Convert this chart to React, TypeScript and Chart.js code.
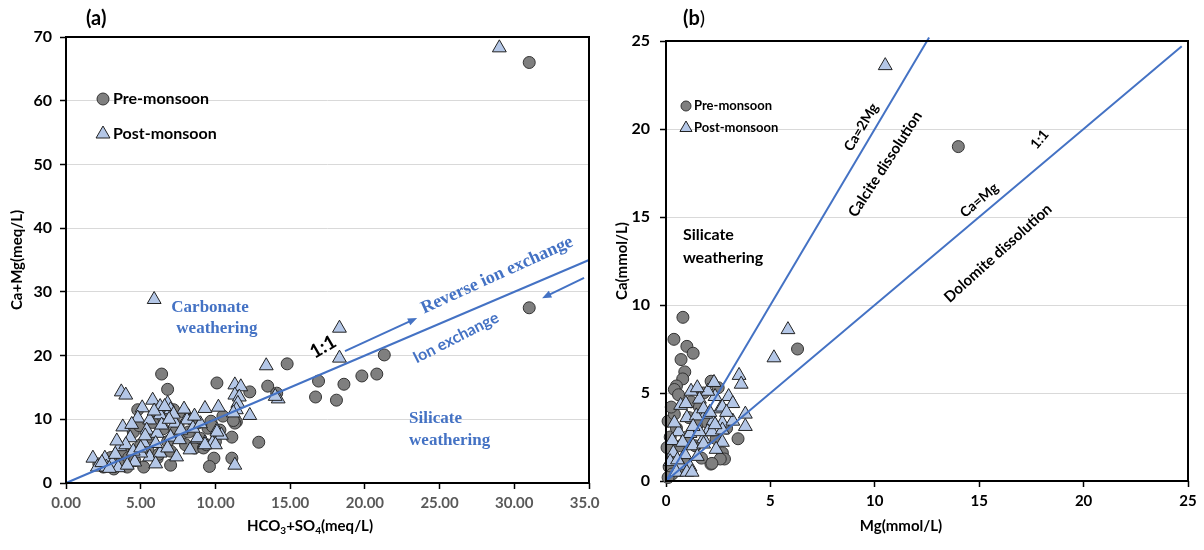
import React, { useEffect, useRef } from "react";
import { Chart, registerables } from "chart.js";

Chart.register(...registerables);

// ---------- Panel (a): Ca+Mg vs HCO3+SO4 (meq/L) ----------
const A_X_TICKS = [0, 5, 10, 15, 20, 25, 30, 35];
const A_Y_TICKS = [0, 10, 20, 30, 40, 50, 60, 70];

const A_PRE: [number, number][] = [
  [31.0, 66.0], [31.0, 27.5], [21.3, 20.1], [20.8, 17.1], [19.8, 16.8], [18.6, 15.5], [18.1, 13.0],
  [16.9, 16.0], [16.7, 13.5], [14.8, 18.7], [13.5, 15.2], [14.1, 14.1], [12.3, 14.3], [10.1, 15.7],
  [6.4, 17.1], [6.8, 14.7], [12.9, 6.4], [11.1, 7.2], [11.4, 9.6], [11.3, 9.4], [9.9, 3.9], [11.1, 3.9],
  [9.6, 2.6], [7.0, 2.8], [5.2, 2.5], [4.1, 2.5], [2.9, 3.6], [6.1, 3.9], [8.6, 5.5], [9.2, 5.5],
  [7.9, 11.1], [7.2, 11.5], [4.8, 11.5], [8.8, 9.4], [9.5, 8.6], [10.3, 8.3], [4.5, 8.0], [5.6, 7.2],
  [7.8, 7.8], [6.5, 8.5], [5.0, 6.0], [6.8, 6.5], [3.8, 5.0], [4.2, 4.0], [5.5, 5.0], [7.5, 9.0],
  [8.2, 8.0], [9.0, 7.0], [9.7, 9.7], [6.0, 10.0], [3.5, 3.0], [2.5, 2.5], [3.2, 2.2], [4.6, 3.5],
  [8.0, 6.0], [10.5, 10.5], [7.0, 5.0], [6.2, 4.5], [10.0, 6.5], [5.8, 9.5], [4.9, 9.0], [8.4, 10.0],
  [9.4, 6.0], [3.0, 4.0], [2.2, 3.0], [7.3, 8.0], [9.8, 8.9], [11.2, 9.8], [6.6, 11.0],
];

const A_POST: [number, number][] = [
  [29.0, 68.3], [5.9, 28.8], [18.3, 24.3], [18.3, 19.6], [13.4, 18.4], [11.3, 15.4], [11.7, 15.1],
  [11.3, 13.8], [11.6, 13.5], [11.5, 12.5], [11.4, 11.5], [12.3, 10.6], [14.2, 13.2], [14.0, 13.6],
  [10.2, 11.9], [9.3, 11.7], [8.1, 10.2], [10.1, 8.3], [10.4, 7.5], [9.3, 6.3], [9.8, 6.3], [8.8, 6.9],
  [11.3, 2.8], [3.7, 14.3], [4.0, 13.8], [5.8, 13.0], [5.1, 11.8], [4.8, 10.2], [3.8, 8.8], [4.3, 7.1],
  [3.6, 5.7], [1.8, 3.9], [2.6, 3.9], [3.1, 3.1], [2.1, 2.5], [2.7, 2.5], [6.3, 12.0], [6.8, 12.5],
  [7.0, 11.5], [6.3, 10.7], [5.6, 9.9], [5.4, 8.3], [6.1, 7.8], [6.4, 9.1], [7.3, 9.4], [8.1, 9.9],
  [7.0, 7.2], [7.6, 6.8], [8.8, 7.1], [10.0, 6.0], [9.3, 6.0], [10.1, 8.0], [5.6, 4.1], [5.0, 4.7],
  [4.6, 3.3], [6.3, 4.7], [11.2, 11.0], [7.2, 10.8], [6.6, 12.0], [4.0, 6.0], [5.2, 6.3], [4.5, 5.0],
  [3.3, 4.5], [2.4, 3.2], [3.5, 2.4], [6.8, 5.5], [7.7, 8.3], [8.5, 8.6], [9.0, 9.3], [6.0, 6.2],
  [5.0, 5.5], [4.1, 2.8], [2.9, 2.3], [6.9, 10.0], [7.9, 11.6], [8.6, 10.5], [5.9, 11.3], [4.4, 9.2],
  [5.3, 7.4], [3.4, 6.6], [7.4, 4.1], [8.3, 5.2], [6.0, 3.0],
];

const A_LINE_1TO1: [number, number][] = [[0, 0], [35, 35]];

// ---------- Panel (b): Ca vs Mg (mmol/L) ----------
const B_X_TICKS = [0, 5, 10, 15, 20, 25];
const B_Y_TICKS = [0, 5, 10, 15, 20, 25];

const B_PRE: [number, number][] = [
  [14.0, 19.0], [6.3, 7.5], [3.45, 2.4], [0.81, 9.3], [0.38, 8.05], [1.0, 7.65], [1.3, 7.26],
  [0.72, 6.9], [0.9, 6.2], [0.8, 5.8], [0.5, 5.4], [0.4, 5.2], [0.6, 4.9], [0.1, 3.4], [0.4, 3.8],
  [2.16, 5.67], [1.8, 5.0], [2.5, 5.3], [2.7, 1.6], [2.8, 1.25], [2.6, 1.25], [2.15, 0.96], [1.7, 1.3],
  [2.2, 1.0], [0.2, 2.5], [0.3, 1.5], [0.15, 0.8], [0.5, 3.0], [0.25, 4.2], [1.2, 4.5], [1.5, 3.2],
  [1.0, 2.5], [0.7, 2.0], [0.9, 1.2], [1.4, 2.0], [2.0, 3.3], [0.3, 0.4], [0.6, 0.6], [1.1, 3.6],
  [2.4, 2.4], [2.9, 3.0], [1.6, 4.2], [0.05, 1.9], [0.1, 0.2],
];

const B_POST: [number, number][] = [
  [10.5, 23.6], [5.84, 8.6], [5.17, 7.0], [3.5, 6.0], [3.6, 5.5], [3.8, 3.8], [3.8, 3.1], [3.0, 4.8],
  [3.2, 4.4], [2.35, 4.8], [2.6, 4.1], [2.0, 5.1], [2.25, 3.4], [2.7, 3.3], [3.2, 3.4], [1.9, 3.8],
  [2.0, 2.8], [2.7, 2.2], [1.8, 2.4], [0.7, 4.3], [1.6, 4.65], [1.0, 3.6], [1.45, 3.7], [1.8, 4.1],
  [2.1, 3.9], [2.7, 4.2], [0.6, 2.8], [1.15, 2.7], [1.6, 2.8], [2.2, 2.8], [2.7, 2.9], [0.3, 2.3],
  [0.8, 2.2], [1.3, 2.0], [1.8, 2.1], [0.35, 1.6], [0.9, 1.5], [1.5, 1.4], [0.2, 1.1], [0.7, 0.9],
  [1.15, 0.8], [0.5, 0.5], [1.0, 0.5], [1.25, 0.5], [2.35, 3.2], [1.2, 5.1], [1.5, 5.3], [2.3, 5.6],
  [0.4, 3.3], [1.3, 3.1], [2.4, 1.8], [0.95, 4.4], [2.9, 3.9], [0.55, 1.2],
];

const B_LINE_CA2MG: [number, number][] = [[0, 0], [12.6, 25.2]];
const B_LINE_1TO1: [number, number][] = [[0, 0], [24.7, 24.7]];

// ---------- styles ----------
const FONT = "Lato, 'Noto Sans', sans-serif";
const SERIF = "'Liberation Serif', 'DejaVu Serif', serif";
const BLUE = "#4472C4";
const PRE_FILL = "#7F7F7F";
const PRE_EDGE = "#333333";
const POST_FILL = "#B4C7E7";
const POST_EDGE = "#222222";

type TextAnn = { text: string; x: number; y: number; rot: number; font: string; color: string; align?: CanvasTextAlign };
type ArrowAnn = { x1: number; y1: number; x2: number; y2: number };

const A_TEXTS: TextAnn[] = [
  { text: "Carbonate", x: 9.64, y: 27.6, rot: 0, font: `bold 17px ${SERIF}`, color: BLUE },
  { text: "weathering", x: 10.1, y: 24.2, rot: 0, font: `bold 17px ${SERIF}`, color: BLUE },
  { text: "Silicate", x: 22.96, y: 10.05, rot: 0, font: `bold 17px ${SERIF}`, color: BLUE, align: "left" },
  { text: "weathering", x: 22.96, y: 6.6, rot: 0, font: `bold 17px ${SERIF}`, color: BLUE, align: "left" },
  { text: "Reverse ion exchange", x: 28.85, y: 32.6, rot: -24.5, font: `bold 18px ${SERIF}`, color: BLUE },
  { text: "Ion exchange", x: 26.1, y: 22.8, rot: -27, font: `bold 16px ${FONT}`, color: BLUE },
  { text: "1:1", x: 17.2, y: 21.35, rot: -30, font: `bold 19px ${FONT}`, color: "#000" },
];
const A_ARROWS: ArrowAnn[] = [
  { x1: 18.67, y1: 20.7, x2: 23.5, y2: 25.9 },
  { x1: 34.67, y1: 32.2, x2: 31.86, y2: 29.0 },
];

const B_TEXTS: TextAnn[] = [
  { text: "Ca=2Mg", x: 9.35, y: 20.1, rot: -59, font: `bold 14px ${FONT}`, color: "#000" },
  { text: "Calcite dissolution", x: 10.5, y: 18.0, rot: -57, font: `bold 15px ${FONT}`, color: "#000" },
  { text: "1:1", x: 17.9, y: 19.4, rot: -50, font: `bold 14px ${FONT}`, color: "#000" },
  { text: "Ca=Mg", x: 15.0, y: 15.95, rot: -40, font: `bold 14px ${FONT}`, color: "#000" },
  { text: "Dolomite dissolution", x: 15.9, y: 12.95, rot: -42, font: `bold 15px ${FONT}`, color: "#000" },
  { text: "Silicate", x: 0.81, y: 14.0, rot: 0, font: `bold 16px ${FONT}`, color: "#000", align: "left" },
  { text: "weathering", x: 0.81, y: 12.7, rot: 0, font: `bold 16px ${FONT}`, color: "#000", align: "left" },
];

type PanelSpec = {
  label: string;
  labelX: number;
  texts: TextAnn[];
  arrows: ArrowAnn[];
  legend: { cx: number; cy1: number; cy2: number; font: string; r: number; tr: number; gap: number };
  yTitle: string;
  yTitleX: number;
  xTitleParts: [string, boolean][];
  xTitleX: number;
  xTitleY: number;
};

function drawArrow(ctx: CanvasRenderingContext2D, x1: number, y1: number, x2: number, y2: number) {
  const ang = Math.atan2(y2 - y1, x2 - x1);
  const head = 10;
  ctx.beginPath();
  ctx.moveTo(x1, y1);
  ctx.lineTo(x2 - Math.cos(ang) * head * 0.7, y2 - Math.sin(ang) * head * 0.7);
  ctx.stroke();
  ctx.beginPath();
  ctx.moveTo(x2, y2);
  ctx.lineTo(x2 - head * Math.cos(ang - 0.38), y2 - head * Math.sin(ang - 0.38));
  ctx.lineTo(x2 - head * Math.cos(ang + 0.38), y2 - head * Math.sin(ang + 0.38));
  ctx.closePath();
  ctx.fill();
}

function drawRich(ctx: CanvasRenderingContext2D, parts: [string, boolean][], cx: number, cy: number, size: number) {
  const main = `bold ${size}px ${FONT}`;
  const sub = `bold ${Math.round(size * 0.65)}px ${FONT}`;
  let total = 0;
  for (const [t, s] of parts) {
    ctx.font = s ? sub : main;
    total += ctx.measureText(t).width;
  }
  let x = cx - total / 2;
  ctx.textAlign = "left";
  ctx.textBaseline = "middle";
  for (const [t, s] of parts) {
    ctx.font = s ? sub : main;
    ctx.fillText(t, x, s ? cy + size * 0.3 : cy);
    x += ctx.measureText(t).width;
  }
}

function makePlugin(spec: PanelSpec) {
  return {
    id: "annot_" + spec.label,
    afterDatasetsDraw(chart: any) {
      const { ctx, chartArea, scales } = chart;
      const xs = scales.x;
      const ys = scales.y;
      ctx.save();
      ctx.strokeStyle = "#000";
      ctx.lineWidth = 2;
      ctx.strokeRect(chartArea.left, chartArea.top, chartArea.right - chartArea.left, chartArea.bottom - chartArea.top);
      ctx.strokeStyle = BLUE;
      ctx.fillStyle = BLUE;
      ctx.lineWidth = 2;
      for (const a of spec.arrows) {
        drawArrow(ctx, xs.getPixelForValue(a.x1), ys.getPixelForValue(a.y1), xs.getPixelForValue(a.x2), ys.getPixelForValue(a.y2));
      }
      for (const t of spec.texts) {
        ctx.save();
        ctx.translate(xs.getPixelForValue(t.x), ys.getPixelForValue(t.y));
        ctx.rotate((t.rot * Math.PI) / 180);
        ctx.font = t.font;
        ctx.fillStyle = t.color;
        ctx.textAlign = t.align || "center";
        ctx.textBaseline = "middle";
        ctx.fillText(t.text, 0, 0);
        ctx.restore();
      }
      const L = spec.legend;
      ctx.lineWidth = 1;
      ctx.beginPath();
      ctx.arc(L.cx, L.cy1, L.r, 0, Math.PI * 2);
      ctx.fillStyle = PRE_FILL;
      ctx.fill();
      ctx.strokeStyle = PRE_EDGE;
      ctx.stroke();
      const tr = L.tr;
      ctx.beginPath();
      ctx.moveTo(L.cx, L.cy2 - tr);
      ctx.lineTo(L.cx + tr * 0.866, L.cy2 + tr * 0.5);
      ctx.lineTo(L.cx - tr * 0.866, L.cy2 + tr * 0.5);
      ctx.closePath();
      ctx.fillStyle = POST_FILL;
      ctx.fill();
      ctx.strokeStyle = POST_EDGE;
      ctx.stroke();
      ctx.fillStyle = "#000";
      ctx.font = L.font;
      ctx.textAlign = "left";
      ctx.textBaseline = "middle";
      ctx.fillText("Pre-monsoon", L.cx + L.gap, L.cy1);
      ctx.fillText("Post-monsoon", L.cx + L.gap, L.cy2);
      ctx.font = `bold 20px ${FONT}`;
      ctx.textBaseline = "middle";
      if (spec.label === "(b)") {
        ctx.fillText("(b", spec.labelX, 19);
        const w = ctx.measureText("(b").width;
        ctx.font = `20px ${FONT}`;
        ctx.fillText(")", spec.labelX + w, 19);
      } else {
        ctx.fillText(spec.label, spec.labelX, 19);
      }
      ctx.save();
      ctx.translate(spec.yTitleX, (chartArea.top + chartArea.bottom) / 2);
      ctx.rotate(-Math.PI / 2);
      ctx.font = `bold 15px ${FONT}`;
      ctx.textAlign = "center";
      ctx.fillText(spec.yTitle, 0, 0);
      ctx.restore();
      drawRich(ctx, spec.xTitleParts, spec.xTitleX, spec.xTitleY, 15);
      ctx.restore();
    },
  };
}

const pts = (arr: [number, number][]) => arr.map(([x, y]) => ({ x, y }));

function buildConfig(opts: {
  pre: [number, number][];
  post: [number, number][];
  lines: [number, number][][];
  xMax: number;
  yMax: number;
  xTicks: number[];
  yTicks: number[];
  xFmt: (v: number) => string;
  xTickColor: string;
  yAxisWidth: number;
  xAxisHeight: number;
  padTop: number;
  padRight: number;
  yPad: number;
  spec: PanelSpec;
  triR: number;
}) {
  const lineSets = opts.lines.map((l) => ({
    type: "scatter" as const,
    data: pts(l),
    showLine: true,
    borderColor: BLUE,
    borderWidth: 2,
    pointRadius: 0,
    order: 0,
    clip: false as const,
  }));
  return {
    type: "scatter" as const,
    data: {
      datasets: [
        ...lineSets,
        {
          data: pts(opts.post),
          pointStyle: "triangle",
          pointRadius: opts.triR,
          backgroundColor: POST_FILL,
          borderColor: POST_EDGE,
          borderWidth: 1,
          order: 1,
          clip: false as const,
        },
        {
          data: pts(opts.pre),
          pointStyle: "circle",
          pointRadius: 6,
          backgroundColor: PRE_FILL,
          borderColor: PRE_EDGE,
          borderWidth: 1,
          order: 2,
          clip: false as const,
        },
      ],
    },
    options: {
      responsive: false,
      animation: false as const,
      devicePixelRatio: 1,
      layout: { padding: { left: 0, right: opts.padRight, top: opts.padTop, bottom: 0 } },
      plugins: { legend: { display: false }, tooltip: { enabled: false }, title: { display: false } },
      events: [],
      scales: {
        x: {
          type: "linear" as const,
          min: 0,
          max: opts.xMax,
          afterBuildTicks: (s: any) => {
            s.ticks = opts.xTicks.map((v) => ({ value: v }));
          },
          ticks: {
            callback: (v: any) => opts.xFmt(Number(v)),
            color: opts.xTickColor,
            font: { family: FONT, size: 15, weight: "bold" as const },
            padding: 5,
            maxRotation: 0,
            autoSkip: false,
          },
          grid: { drawOnChartArea: false, drawTicks: true, tickLength: 6, tickColor: "#000", tickWidth: 1.5 },
          border: { display: false },
          afterFit: (s: any) => {
            s.height = opts.xAxisHeight;
            s.paddingLeft = 0;
            s.paddingRight = 0;
          },
        },
        y: {
          type: "linear" as const,
          min: 0,
          max: opts.yMax,
          afterBuildTicks: (s: any) => {
            s.ticks = opts.yTicks.map((v) => ({ value: v }));
          },
          ticks: {
            color: "#000",
            font: { family: FONT, size: 16, weight: "bold" as const },
            padding: opts.yPad,
            autoSkip: false,
          },
          grid: { color: "#D9D9D9", lineWidth: 1, drawTicks: true, tickLength: 6, tickColor: "#000", tickWidth: 1.5 },
          border: { display: false },
          afterFit: (s: any) => {
            s.width = opts.yAxisWidth;
            s.paddingTop = 0;
            s.paddingBottom = 0;
          },
        },
      },
    },
    plugins: [makePlugin(opts.spec)],
  };
}

function Panel({ left, width, height, make }: { left: number; width: number; height: number; make: () => any }) {
  const ref = useRef<HTMLCanvasElement>(null);
  useEffect(() => {
    const chart = new Chart(ref.current as HTMLCanvasElement, make());
    return () => chart.destroy();
  }, []);
  return <canvas ref={ref} width={width} height={height} style={{ position: "absolute", left, top: 0, width, height }} />;
}

const specA: PanelSpec = {
  label: "(a)",
  labelX: 86,
  texts: A_TEXTS,
  arrows: A_ARROWS,
  legend: { cx: 103, cy1: 99, cy2: 134, font: `bold 16px ${FONT}`, r: 6, tr: 8, gap: 10 },
  yTitle: "Ca+Mg(meq/L)",
  yTitleX: 17,
  xTitleParts: [["HCO", false], ["3", true], ["+SO", false], ["4", true], ["(meq/L)", false]],
  xTitleX: 310,
  xTitleY: 526,
};

const specB: PanelSpec = {
  label: "(b)",
  labelX: 83,
  texts: B_TEXTS,
  arrows: [],
  legend: { cx: 86, cy1: 106, cy2: 128, font: `bold 13px ${FONT}`, r: 5, tr: 7, gap: 8 },
  yTitle: "Ca(mmol/L)",
  yTitleX: 22,
  xTitleParts: [["Mg(mmol/L)", false]],
  xTitleX: 301,
  xTitleY: 526,
};

export default function App() {
  return (
    <div style={{ position: "absolute", left: 0, top: 0, width: 1204, height: 550, background: "#fff", overflow: "hidden" }}>
      <Panel
        left={0}
        width={600}
        height={550}
        make={() =>
          buildConfig({
            pre: A_PRE,
            post: A_POST,
            lines: [A_LINE_1TO1],
            xMax: 35,
            yMax: 70,
            xTicks: A_X_TICKS,
            yTicks: A_Y_TICKS,
            xFmt: (v) => v.toFixed(2),
            xTickColor: "#595959",
            yAxisWidth: 66,
            xAxisHeight: 67,
            padTop: 37,
            padRight: 11,
            yPad: 8,
            spec: specA,
            triR: 8,
          })
        }
      />
      <Panel
        left={600}
        width={604}
        height={550}
        make={() =>
          buildConfig({
            pre: B_PRE,
            post: B_POST,
            lines: [B_LINE_CA2MG, B_LINE_1TO1],
            xMax: 25,
            yMax: 25,
            xTicks: B_X_TICKS,
            yTicks: B_Y_TICKS,
            xFmt: (v) => String(v),
            xTickColor: "#000",
            yAxisWidth: 66,
            xAxisHeight: 69,
            padTop: 41,
            padRight: 16,
            yPad: 10,
            spec: specB,
            triR: 8,
          })
        }
      />
    </div>
  );
}
